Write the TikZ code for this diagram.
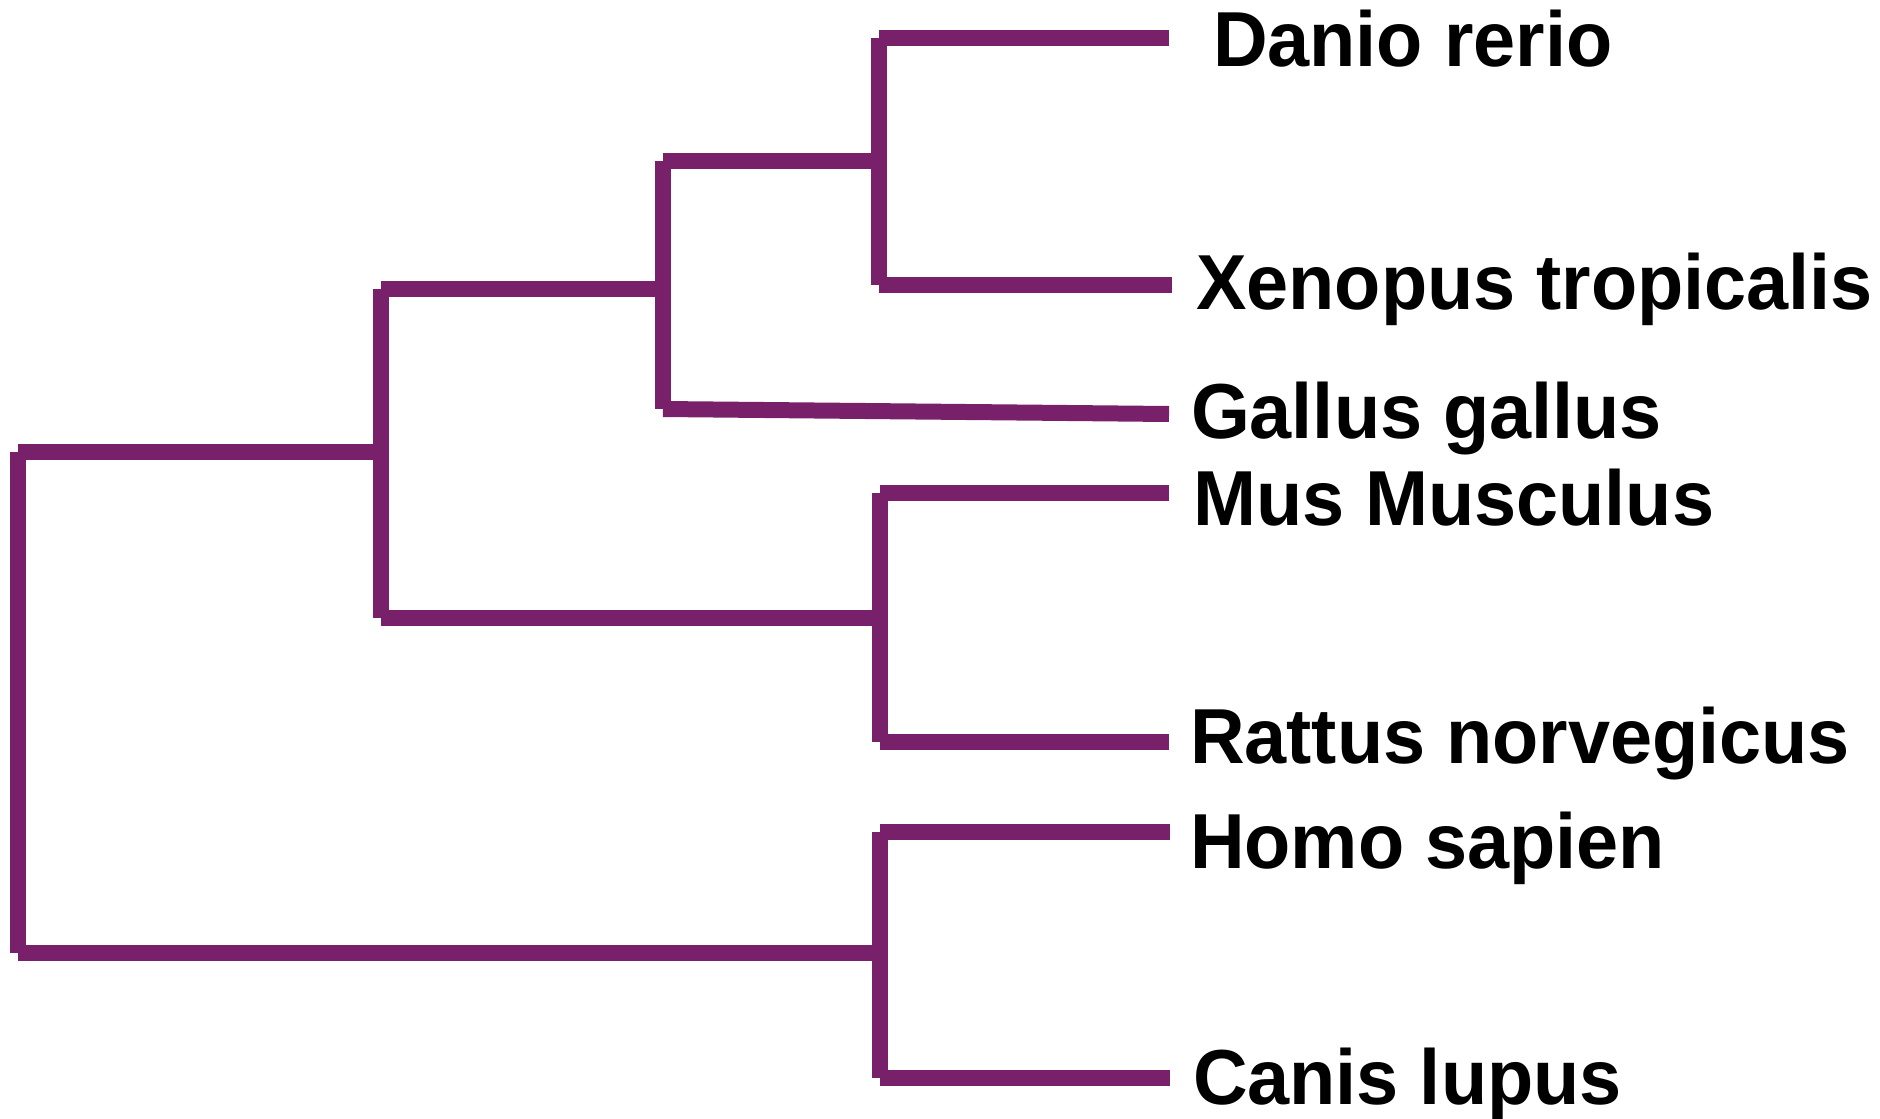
\documentclass[tikz,border=0pt]{standalone}
\usepackage{fontspec}
\setmainfont{Liberation Sans}[FakeStretch=0.97]
\definecolor{treecol}{RGB}{121,32,107}
\begin{document}
\begin{tikzpicture}[x=0.5pt,y=-0.5pt,
  branch/.style={draw=treecol,line width=8pt,line cap=butt},
  lbl/.style={anchor=base west,inner sep=0pt,outer sep=0pt,text=black,
    font=\fontsize{39pt}{46pt}\selectfont\bfseries}]
\path[use as bounding box] (0,0) rectangle (1880,1119);
% internal corners and junctions
\coordinate (rt) at (18,452);
\coordinate (rb) at (18,953);
\coordinate (Aj) at (381,452);
\coordinate (At) at (381,289);
\coordinate (Ab) at (381,618);
\coordinate (Bj) at (663,289);
\coordinate (Bt) at (663,161);
\coordinate (Bb) at (663,409);
\coordinate (Cj) at (879,161);
\coordinate (Ct) at (879,38);
\coordinate (Cb) at (879,285);
\coordinate (Dj) at (880,618);
\coordinate (Dt) at (880,493);
\coordinate (Db) at (880,742);
\coordinate (Ej) at (880,953);
\coordinate (Et) at (880,832);
\coordinate (Eb) at (880,1078);
% leaf ends
\coordinate (lDan) at (1169,38);
\coordinate (lXen) at (1172,285);
\coordinate (lGal) at (1169,414);
\coordinate (lMus) at (1169,493);
\coordinate (lRat) at (1169,742);
\coordinate (lHom) at (1170,832);
\coordinate (lCan) at (1170,1078);
% branches
\draw[branch] (rt) -- (rb);
\draw[branch] (rt) -- (Aj);
\draw[branch] (rb) -- (Ej);
\draw[branch] (At) -- (Ab);
\draw[branch] (At) -- (Bj);
\draw[branch] (Ab) -- (Dj);
\draw[branch] (Bt) -- (Bb);
\draw[branch] (Bt) -- (Cj);
\draw[branch] (Bb) -- (lGal);
\draw[branch] (Ct) -- (Cb);
\draw[branch] (Ct) -- (lDan);
\draw[branch] (Cb) -- (lXen);
\draw[branch] (Dt) -- (Db);
\draw[branch] (Dt) -- (lMus);
\draw[branch] (Db) -- (lRat);
\draw[branch] (Et) -- (Eb);
\draw[branch] (Et) -- (lHom);
\draw[branch] (Eb) -- (lCan);
% labels
\node[lbl] (tDan) at (1213,66) {Danio rerio};
\node[lbl] (tXen) at (1196,309) {Xenopus tropicalis};
\node[lbl] (tGal) at (1191,438) {Gallus gallus};
\node[lbl] (tMus) at (1193,525) {Mus Musculus};
\node[lbl] (tRat) at (1190,763) {Rattus norvegicus};
\node[lbl] (tHom) at (1190,868) {Homo sapien};
\node[lbl] (tCan) at (1193,1104) {Canis lupus};
\end{tikzpicture}
\end{document}
